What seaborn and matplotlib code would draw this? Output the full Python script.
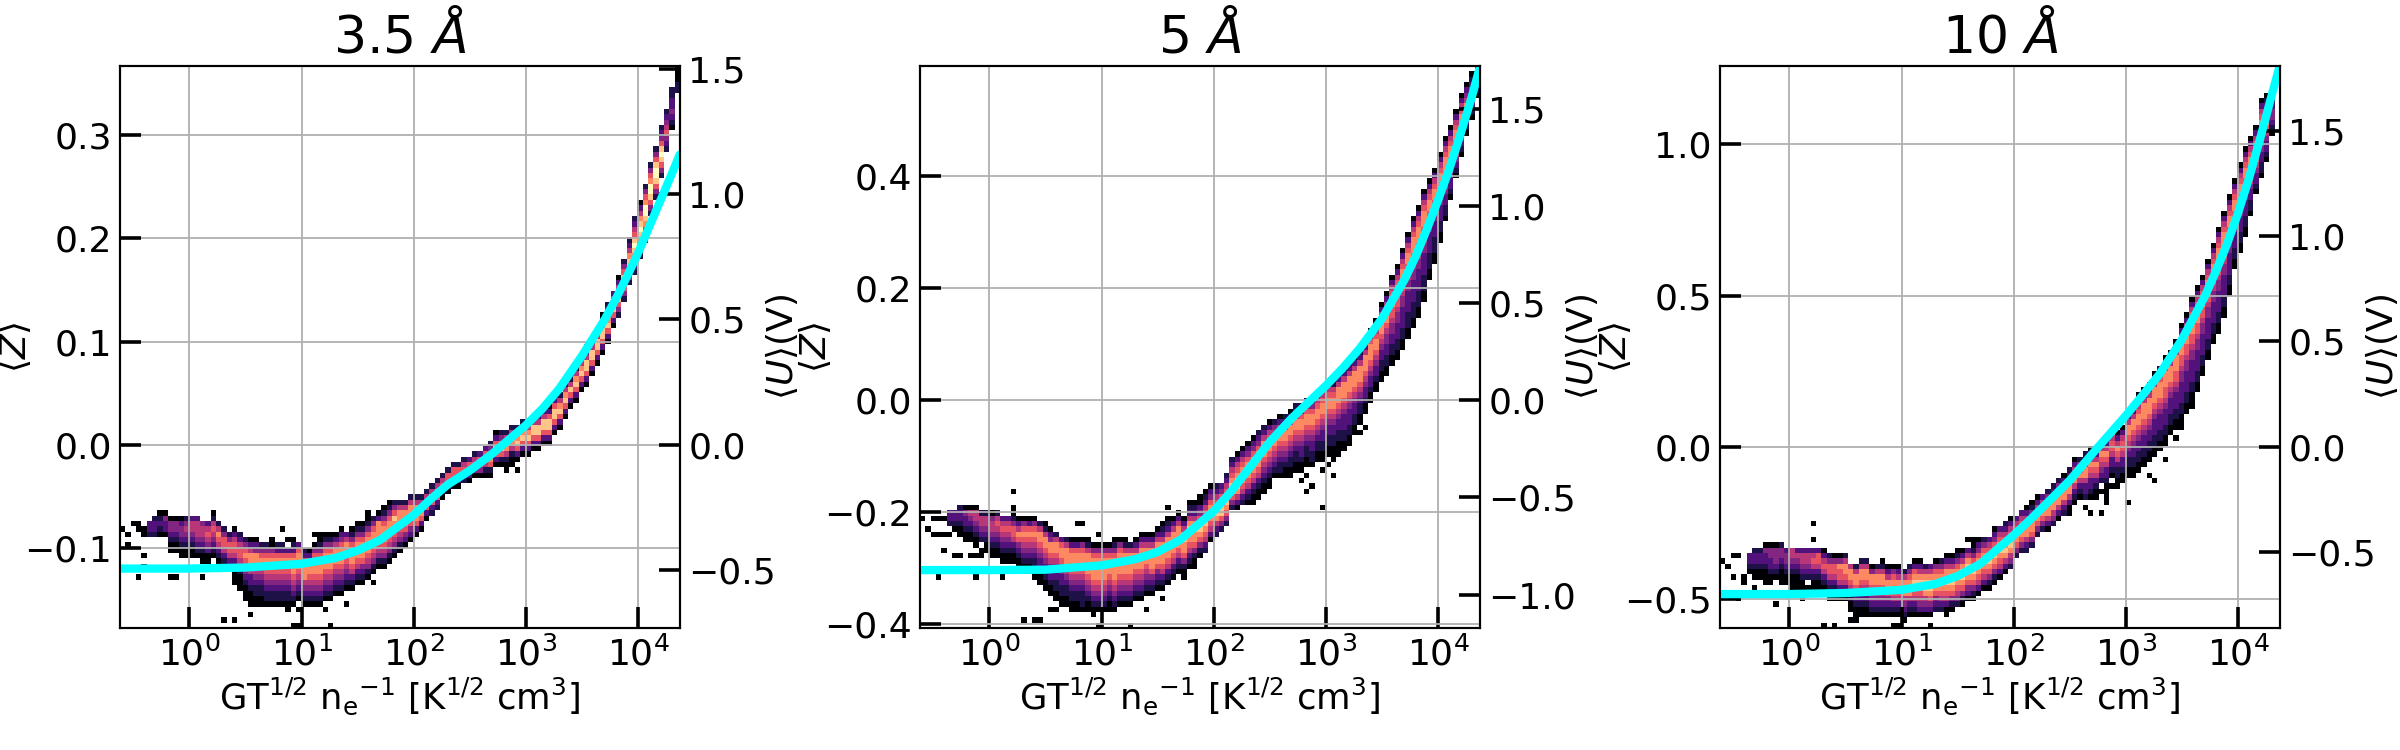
import numpy as np
import pandas as pd
import matplotlib
matplotlib.use("Agg")
import matplotlib.pyplot as plt
from matplotlib.ticker import NullLocator, FixedLocator
import seaborn as sns

# Density strips per column of the 105 x 105 histogram: "first_row:levels",
# levels run upward from first_row, 1 is the sparsest bin, 9 the densest, "." empty.
COLUMNS_35 = [
    "", "", "", "", "", "17:233", "17:2332", "17:12321", "17:13341", "14:1123441",
    "14:1123441", "13:11234431", "13:11234542", "13:11234553", "13:12345553", "12:11234554", "12:11345653", "13:12345652", "12:12356752", "11:12356642",
    "11:2356642", "8:11123566531", "7:11123566532", "5:111234567642", "4:1112335677531", "4:1122345677431", "4:112234567642", "4:122345677642", "4:122345677641", "4:122345677632",
    "4:122345677632", "3:112234567763", "4:1234567776321", "3:1.12345677763", "4:12345777632", "4:12345677631", "4:123456777641", "4:1234567776421", "5:1234567776421", "5:1234567776421",
    "6:123456777531", "6:1234567776431", "7:12345677753", "7:123567776421", "8:123567776421", "8:123467776421", "9:124567776421", "10:12456777642", "11:12456777731", "11:124567776421",
    "12:124567776421", "13:12456778642", "14:1245677752", "15:134677752", "16:134677752", "17:13677752", "18:1367752", "20:136752", "21:236752", "22:236752",
    "24:13652", "25:13662", "26:13662", "26:13662", "27:24652", "27:13663", "28:14652", "28:14663", "28:125663", "28:1267642",
    "30:1368631", "30:1268742", "30:1257852", "30:11257852", "31:1368752", "32:1368752", "32:1368752", "33:1368852", "33:13688531", "34:1368853",
    "34:13688631", "36:1368863", "37:1368752", "39:1368752", "41:136852", "42:1368752", "44:1368752", "45:13688531", "47:1368853", "49:1368853",
    "51:13688531", "53:13687532", "56:1368753", "58:24687531", "61:24688642", "64:246887532", "66:23578986532", "69:23578987531", "72:23578997642", "77:2468997642",
    "80:2468998642", "84:2468986432", "89:23465432", "93:12343322", "100:22112",
]

COLUMNS_5 = [
    "", "", "", "", "", "19:233", "18:1233", "17:112332", "16:1123341", "16:1123451",
    "15:11234551", "14:1.234552", "14:11234552", "13:112345541", "13:112345652", "12:112345653", "12:112345653", "12:112356642", "11:1123467531", "10:11234567641",
    "10:11234567631", "9:112234567641", "8:112334567752", "7:1122345677521", "6:1123345677431", "5:1122334567752", "4:1122334567763", "4:1122345677752", "3:11223456777631", "3:11223456777631",
    "3:12223456777641", "3:11234567777521", "3:1234567777641", "3:1234567777641", "3:1234567777641", "3:1123456777641", "3:12345677776421", "4:1234567777641", "4:1234567777521", "4:123456777752",
    "5:123456777531", "5:1234567777531", "6:123456777531", "6:123467777531", "7:123467777531", "7:1235677775321", "8:1235677775321", "9:123567777531", "10:123567777531", "10:12467787531",
    "11:1235677875321", "12:124677875321", "13:124678764311", "14:235678765321", "16:13567876431", "17:2357876532", "18:246887643", "19:2467876532", "22:2468876532", "22:13578876531",
    "23:23567776531", "23:123567776431", "23:1123567776431", "24:1123567776432", "25:1123456777532", "26:1123456776531", "28:12345677542", "28:122345677531", "28:112345677532", "28:1122345677531",
    "29:1122345677532", "29:1123345677632", "30:1122345677642", "30:1223345677642", "31:1122345677652", "31:11223345677652", "32:11223345677652", "32:112233456776521", "33:112233456777531", "33:1122333456777531",
    "34:1122333456777532", "36:112233456777531", "38:11223456777532", "40:11233456777532", "42:11233456777631", "44:11233456776531", "46:112233456776531", "47:1122334456776531", "49:11223344566776531", "50:112233344566776531",
    "52:1122333344566776531", "54:11222333344566776531", "56:112223333445667776531", "58:112223333445667776531", "61:112223333445667776531", "65:1122233334566776531", "68:112223334566776531", "72:11223334566776531", "76:1223345667776531", "80:12334566776531",
    "84:1234566776531", "88:123456776531", "92:1234675431", "95:123465321", "99:123321",
]

COLUMNS_10 = [
    "", "", "", "", "", "10:1233", "10:12332", "9:112332", "9:1123341", "8:11233441",
    "9:1234441", "9:1123442", "8:1123443", "7:11123455", "7:11123453", "7:11234553", "7:1.234553", "7:11235653", "7:11235663", "6:11235653",
    "5:112356642", "5:112356641", "5:123566741", "5:123567752", "3:112356775", "2:1123567752", "2:11234567752", "2:11234567752", "2:1234567741", "2:1234567752",
    "2:1234567752", "2:1234677531", "2:1235677641", "2:123567753", "1:1234577752", "2:1235787642", "2:12356787631", "2:13456787531", "2:1345788752", "2:1346788753",
    "3:2346787641", "3:2356787642", "3:13567877531", "3:12467887531", "4:24567876421", "4:12467887531", "5:1346778753", "5:12467876421", "6:13567876431", "7:1356787642",
    "7:1246787653", "8:12467876431", "9:1356787653", "10:1357876532", "11:2457876531", "13:24677653", "14:24677653", "14:235776531", "15:246776421", "17:24676531",
    "18:2467653", "18:13577642", "19:24577532", "20:13577642", "21:23577531", "21:113577532", "23:123576531", "24:12357642", "22:1.233577422", "21:1..1233567531",
    "24:1123567531", "25:1.23456753", "24:11123356753", "26:1.12335665", "26:11223567531", "27:11233566531", "28:1122345677531", "28:11223345677531", "29:112233456776531", "30:112233456777531",
    "31:112233456777532", "32:1122333456777531", "33:1122333456777632", "34:11223334566777531", "36:1122333456777531", "37:11223334566777531", "38:1122333344566777531", "40:1122333344566777531", "42:11223333445667776531", "44:11223333445667776531",
    "47:1122333344566776531", "50:1122333344566776531", "53:1122333344566776531", "55:11223333445667776531", "58:11223333445667776531", "62:1122333344566776531", "67:11223334566776531", "70:11223334566776531", "73:11223334566776531", "77:122334566776531",
    "81:1233456776531", "84:122334566776531", "87:1233456765321", "92:12344321", "",
]

# Isolated single-count bins as (column, row), drawn at the sparsest level.
SPECKS_35 = [(0, 18), (1, 17), (1, 15), (2, 19), (3, 19), (3, 18), (3, 9), (4, 18), (4, 17), (4, 13), (4, 11), (9, 9),
             (10, 9), (15, 9), (17, 21), (17, 19), (19, 1), (21, 1), (24, 2), (30, 18), (28, 16), (31, 16), (32, 0), (33, 0),
             (36, 17), (37, 17), (38, 3), (39, 0), (42, 4), (46, 21), (47, 8), (47, 19), (72, 29), (66, 28), (74, 29)]
SPECKS_5 = [(0, 20), (1, 18), (2, 20), (2, 17), (3, 20), (3, 17), (3, 9), (4, 20), (4, 17), (4, 14), (5, 17), (6, 13), (7, 13),
            (9, 13), (10, 13), (10, 9), (11, 13), (15, 9), (17, 25), (17, 22), (17, 21), (19, 1), (21, 1), (22, 1), (24, 3),
            (25, 3), (27, 4), (28, 4), (29, 19), (30, 19), (32, 2), (33, 17), (33, 0), (39, 0), (42, 3), (45, 5), (46, 22),
            (49, 9), (50, 11), (51, 11), (71, 27), (72, 28), (73, 26), (75, 29), (76, 30), (77, 31), (78, 32), (80, 36), (75, 22), (72, 25),
            (79, 34), (81, 38), (82, 36), (83, 37), (77, 28)]
SPECKS_10 = [(0, 12), (1, 11), (2, 13), (2, 9), (3, 13), (3, 5), (4, 9), (4, 8), (6, 9), (6, 7), (8, 8), (9, 8), (10, 4), (11, 8),
             (15, 5), (17, 19), (17, 16), (17, 12), (19, 14), (19, 0), (21, 0), (24, 1), (25, 1), (26, 11), (30, 12), (32, 0),
             (33, 0), (33, 11), (36, 11), (37, 11), (39, 0), (40, 11), (42, 2), (45, 4), (46, 16), (47, 16), (72, 23), (71, 21), (76, 23),
             (80, 28), (81, 27), (83, 31), (85, 35), (86, 37), (88, 41)]

# Fitted potential curves, as log10 of the abscissa and <U> in volts.
CURVE_LOG_X = [-0.62, 0.0, 0.5, 1.0, 1.3, 1.5, 1.7, 2.0, 2.15, 2.3, 2.5, 2.7, 3.0, 3.15, 3.3, 3.5, 3.7, 3.8, 3.9, 4.0, 4.1, 4.2, 4.3, 4.37]
CURVE_35 = [-0.494, -0.494, -0.49, -0.475, -0.452, -0.422, -0.38, -0.28, -0.218, -0.16, -0.103, -0.036, 0.078, 0.145, 0.225, 0.355, 0.498, 0.58, 0.67, 0.765, 0.87, 0.975, 1.08, 1.156]
CURVE_5 = [-0.874, -0.874, -0.872, -0.85, -0.818, -0.781, -0.719, -0.571, -0.473, -0.362, -0.214, -0.09, 0.075, 0.165, 0.265, 0.42, 0.62, 0.74, 0.88, 1.03, 1.19, 1.37, 1.56, 1.71]
CURVE_10 = [-0.70, -0.70, -0.695, -0.68, -0.652, -0.614, -0.557, -0.42, -0.345, -0.266, -0.16, -0.034, 0.148, 0.245, 0.345, 0.51, 0.71, 0.83, 0.96, 1.11, 1.28, 1.47, 1.67, 1.807]

TITLES = [r"3.5 $\AA$", r"5 $\AA$", r"10 $\AA$"]
Z_LIMITS = [(-0.177, 0.3669), (-0.408, 0.5975), (-0.596, 1.257)]
U_LIMITS = [(-0.731, 1.51), (-1.172, 1.719), (-0.861, 1.807)]
Z_TICKS = [[-0.1, 0.0, 0.1, 0.2, 0.3], [-0.4, -0.2, 0.0, 0.2, 0.4], [-0.5, 0.0, 0.5, 1.0]]
U_TICKS = [[-0.5, 0.0, 0.5, 1.0, 1.5], [-1.0, -0.5, 0.0, 0.5, 1.0, 1.5], [-0.5, 0.0, 0.5, 1.0, 1.5]]
X_TICKS = [1, 10, 100, 1000, 10000]
LOG_X_LIMITS = (-0.618, 4.373)
N_BINS = 105
AXES_LEFT_PX = [120, 920, 1720]

COLUMN_SETS = [COLUMNS_35, COLUMNS_5, COLUMNS_10]
SPECK_SETS = [SPECKS_35, SPECKS_5, SPECKS_10]
CURVES = [CURVE_35, CURVE_5, CURVE_10]


def bins_table(columns, specks):
    """Expand the column strips and specks into (column, row, level) records."""
    cells = {}
    for col, strip in enumerate(columns):
        if not strip:
            continue
        start, levels = strip.split(":")
        for offset, mark in enumerate(levels):
            if mark != "." and int(start) + offset < N_BINS:
                cells[(col, int(start) + offset)] = int(mark)
    for key in specks:
        cells.setdefault(key, 1)
    return pd.DataFrame([(c, r, v) for (c, r), v in cells.items()], columns=["col", "row", "level"])


sns.set_theme(style="white")
plt.rcParams.update({"font.family": ["DejaVu Sans"], "mathtext.fontset": "dejavusans", "font.size": 26,
                     "lines.solid_joinstyle": "round"})

fig = plt.figure(figsize=(24, 7.5), dpi=100)
xlabel = r"GT$^{1/2}$ n$_{\rm e}$$^{-1}$ [K$^{1/2}$ cm$^3$]"

x_edges = np.linspace(LOG_X_LIMITS[0], LOG_X_LIMITS[1], N_BINS + 1)
for i in range(3):
    ax = fig.add_axes([AXES_LEFT_PX[i] / 2400, 1 - 628 / 750, 560 / 2400, 562 / 750])
    y_edges = np.linspace(Z_LIMITS[i][0], Z_LIMITS[i][1], N_BINS + 1)
    table = bins_table(COLUMN_SETS[i], SPECK_SETS[i])
    table["x"] = 10 ** ((x_edges[table["col"]] + x_edges[table["col"] + 1]) / 2)
    table["z"] = (y_edges[table["row"]] + y_edges[table["row"] + 1]) / 2

    sns.histplot(data=table, x="x", y="z", weights="level", bins=(x_edges, y_edges),
                 log_scale=(True, False), cmap="magma", vmin=1, vmax=9, ax=ax)

    ax.set_xlim(10 ** LOG_X_LIMITS[0], 10 ** LOG_X_LIMITS[1])
    ax.set_ylim(*Z_LIMITS[i])
    ax.xaxis.set_major_locator(FixedLocator(X_TICKS))
    ax.xaxis.set_minor_locator(NullLocator())
    ax.set_yticks(Z_TICKS[i])
    ax.set_axisbelow(False)
    ax.grid(True, color="#b0b0b0", linewidth=1.3)
    ax.tick_params(axis="both", which="major", direction="in", length=15, width=2.6,
                   labelsize=26, color="black", labelcolor="black", bottom=True, left=True, pad=6)
    ax.set_xlabel(xlabel, fontsize=25.5, color="black", labelpad=2)
    ax.set_ylabel(r"$\langle Z\rangle$", fontsize=26, color="black")
    ax.yaxis.set_label_coords(-0.155, 0.5)
    ax.set_title(TITLES[i], fontsize=37.5, color="black", pad=10)
    for spine in ax.spines.values():
        spine.set_linewidth(1.5)
        spine.set_color("black")

    right = ax.twinx()
    sns.lineplot(x=10 ** np.array(CURVE_LOG_X), y=CURVES[i], color="cyan", linewidth=6,
                 sort=False, errorbar=None, ax=right)
    right.set_ylim(*U_LIMITS[i])
    right.set_xlim(10 ** LOG_X_LIMITS[0], 10 ** LOG_X_LIMITS[1])
    right.set_yticks(U_TICKS[i])
    right.grid(False)
    right.tick_params(axis="y", which="major", direction="in", length=15, width=2.6,
                      labelsize=26, color="black", labelcolor="black", right=True, pad=6)
    right.set_ylabel(r"$\langle U\rangle$(V)", fontsize=26, color="black")
    right.yaxis.set_label_coords(1.148, 0.5)
    for spine in right.spines.values():
        spine.set_linewidth(1.5)
        spine.set_color("black")

fig.savefig("out.png", dpi=100, facecolor="white")
